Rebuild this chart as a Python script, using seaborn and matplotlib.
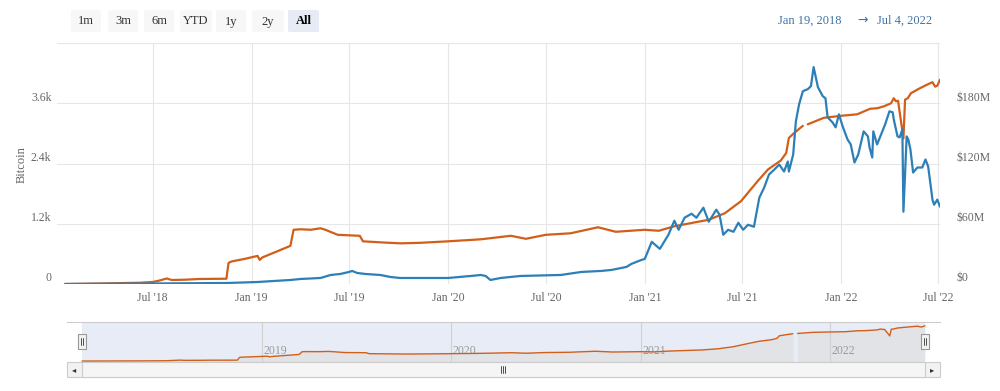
import pandas as pd
import numpy as np
import matplotlib
matplotlib.use("Agg")
import matplotlib.pyplot as plt
import matplotlib.transforms as mtrans
from matplotlib.patches import FancyBboxPatch, Rectangle
import seaborn as sns

# ─────────────────────────────────────────
#  DATA
# ─────────────────────────────────────────
# orange: bitcoin held (left axis); gap in late Oct 2021
btc_dates = [
    "2018-01-19", "2018-03-25", "2018-06-07", "2018-07-01", "2018-07-14",
    "2018-07-27", "2018-08-05", "2018-08-29", "2018-09-26", "2018-11-15",
    "2018-11-19", "2018-11-25", "2018-12-19", "2019-01-12", "2019-01-16",
    "2019-01-21", "2019-02-15", "2019-03-14", "2019-03-20", "2019-04-02",
    "2019-04-21", "2019-05-09", "2019-05-18", "2019-06-10", "2019-07-21",
    "2019-07-27", "2019-08-28", "2019-10-04", "2019-11-10", "2020-01-01",
    "2020-03-02", "2020-04-27", "2020-05-25", "2020-07-01", "2020-08-16",
    "2020-10-06", "2020-11-08", "2021-01-01", "2021-01-27", "2021-02-25",
    "2021-04-30", "2021-05-30", "2021-06-29", "2021-07-30", "2021-08-18",
    "2021-09-11", "2021-09-21", "2021-09-26", "2021-10-06", "2021-10-22",
    "2021-10-26",
    "2021-10-31", "2021-11-30", "2022-01-01", "2022-01-31", "2022-02-24",
    "2022-03-09", "2022-03-22", "2022-04-04", "2022-04-09", "2022-04-13",
    "2022-04-17", "2022-04-27", "2022-04-30", "2022-05-05", "2022-05-11",
    "2022-05-26", "2022-06-08", "2022-06-20", "2022-06-25", "2022-06-29",
    "2022-07-04",
]
btc_held = [
    0, 10, 25, 40, 70,
    110, 80, 85, 100, 105,
    420, 450, 500, 560, 480,
    530, 640, 760, 1080, 1090,
    1080, 1110, 1080, 980, 960,
    850, 830, 810, 820, 850,
    890, 960, 900, 980, 1010,
    1130, 1040, 1080, 1060, 1150,
    1280, 1410, 1650, 2050, 2280,
    2460, 2610, 2910, 3010, 3150,
    np.nan,
    3180, 3310, 3350, 3380, 3490,
    3500, 3540, 3600, 3700, 3640,
    3650, 2900, 3670, 3700, 3800,
    3890, 3960, 4020, 3930, 3950,
    4070,
]

# blue: USD value, $M (right axis)
usd_dates = [
    "2018-01-19", "2018-06-25", "2018-11-17", "2019-01-12", "2019-03-14",
    "2019-04-02", "2019-05-09", "2019-05-28", "2019-06-15", "2019-07-01",
    "2019-07-07", "2019-07-16", "2019-07-31", "2019-08-28", "2019-09-16",
    "2019-10-04", "2019-11-30", "2020-01-01", "2020-02-13", "2020-03-02",
    "2020-03-11", "2020-03-20", "2020-04-08", "2020-05-15", "2020-07-29",
    "2020-09-05", "2020-10-12", "2020-10-31", "2020-11-28", "2020-12-07",
    "2020-12-26", "2021-01-01", "2021-01-14", "2021-01-29", "2021-02-14",
    "2021-02-25", "2021-03-05", "2021-03-16", "2021-03-29", "2021-04-07",
    "2021-04-20", "2021-04-30", "2021-05-14", "2021-05-20", "2021-05-27",
    "2021-06-05", "2021-06-15", "2021-06-24", "2021-07-03", "2021-07-12",
    "2021-07-23", "2021-08-02", "2021-08-11", "2021-08-20", "2021-08-30",
    "2021-09-08", "2021-09-17", "2021-09-24", "2021-09-26", "2021-10-04",
    "2021-10-09", "2021-10-15", "2021-10-22", "2021-10-31", "2021-11-06",
    "2021-11-11", "2021-11-19", "2021-11-28", "2021-12-03", "2021-12-07",
    "2021-12-16", "2021-12-22", "2021-12-28", "2022-01-04", "2022-01-13",
    "2022-01-19", "2022-01-26", "2022-02-02", "2022-02-12", "2022-02-20",
    "2022-02-23", "2022-02-28", "2022-03-02", "2022-03-09", "2022-03-15",
    "2022-03-24", "2022-04-01", "2022-04-07", "2022-04-09", "2022-04-16",
    "2022-04-20", "2022-04-25", "2022-04-27", "2022-05-03", "2022-05-06",
    "2022-05-10", "2022-05-15", "2022-05-23", "2022-06-01", "2022-06-07",
    "2022-06-12", "2022-06-20", "2022-06-23", "2022-06-29", "2022-07-04",
]
usd_value_m = [
    0, 0.5, 1, 2, 4,
    5, 6, 9, 10, 12,
    13, 11, 10, 9, 7,
    6, 6, 6, 8, 9,
    8, 4, 6, 8, 9,
    12, 13, 14, 17, 20,
    24, 25, 42, 35, 49,
    63, 54, 66, 70, 66,
    76, 62, 74, 69, 49,
    54, 52, 61, 54, 59,
    57, 86, 96, 109, 114,
    119, 112, 122, 112, 129,
    162, 179, 192, 194, 197,
    216, 196, 187, 185, 166,
    161, 156, 169, 157, 144,
    139, 121, 129, 152, 147,
    136, 126, 152, 139, 147,
    159, 172, 171, 164, 147,
    146, 154, 72, 147, 144,
    134, 111, 116, 116, 124,
    117, 84, 79, 84, 77,
]

left_ticks = [0, 1200, 2400, 3600, 4800]
left_labels = ["0", "1.2k", "2.4k", "3.6k", ""]
right_ticks = [0, 60, 120, 180, 240]
right_labels = ["$0", "$60M", "$120M", "$180M", ""]
x_ticks = ["2018-07-01", "2019-01-01", "2019-07-01", "2020-01-01", "2020-07-01",
           "2021-01-01", "2021-07-01", "2022-01-01", "2022-07-01"]
x_labels = ["Jul '18", "Jan '19", "Jul '19", "Jan '20", "Jul '20",
            "Jan '21", "Jul '21", "Jan '22", "Jul '22"]
nav_years = ["2019", "2020", "2021", "2022"]
buttons = ["1m", "3m", "6m", "YTD", "1y", "2y", "All"]
range_from = "Jan 19, 2018"
range_to = "Jul 4, 2022"

# ─────────────────────────────────────────
#  STYLE
# ─────────────────────────────────────────
BLUE = "#2d7fb8"
ORANGE = "#d15f1a"
GRID = "#e6e6e6"
LABEL = "#666666"
sns.set_theme(style="white")
plt.rcParams["font.family"] = ["Liberation Serif", "DejaVu Serif"]

btc = pd.DataFrame({"date": pd.to_datetime(btc_dates), "btc": btc_held})
usd = pd.DataFrame({"date": pd.to_datetime(usd_dates), "usd": usd_value_m})
gap = btc["btc"].isna()
seg_id = gap.cumsum()
btc_segments = [g for _, g in btc[~gap].groupby(seg_id[~gap])]

W, H = 1000, 391
fig = plt.figure(figsize=(W / 100, H / 100), dpi=100)
fig.patch.set_facecolor("white")


def fx(px):
    return px / W


def fy(py):
    return 1 - py / H


# ─────────────────────────────────────────
#  MAIN CHART
# ─────────────────────────────────────────
ax = fig.add_axes([fx(57), fy(284), fx(940 - 57), (284 - 43) / H])
ax2 = ax.twinx()

for seg in btc_segments:
    sns.lineplot(data=seg, x="date", y="btc", ax=ax, color=ORANGE,
                 linewidth=1.6, estimator=None, legend=False)
sns.lineplot(data=usd, x="date", y="usd", ax=ax2, color=BLUE,
             linewidth=1.6, estimator=None, legend=False)

xmin, xmax = pd.Timestamp("2018-01-04"), pd.Timestamp("2022-07-04")
for a in (ax, ax2):
    a.set_xlim(xmin, xmax)
    a.set_xlabel("")
    a.set_ylabel("")
    for s in a.spines.values():
        s.set_visible(False)
    a.tick_params(length=0, colors=LABEL, labelsize=8.5)

ax.set_ylim(0, 4800)
ax2.set_ylim(0, 240)
ax.set_yticks(left_ticks)
ax.set_yticklabels(left_labels)
ax2.set_yticks(right_ticks)
ax2.set_yticklabels(right_labels)
ax.set_xticks(pd.to_datetime(x_ticks))
ax.set_xticklabels(x_labels)
ax.tick_params(axis="x", pad=6)
ax.tick_params(axis="y", pad=4)
ax2.tick_params(axis="y", pad=12)
ax.grid(True, color=GRID, linewidth=0.8)
ax2.grid(False)
ax.set_axisbelow(True)

up = mtrans.ScaledTranslation(0, 4 / 72, fig.dpi_scale_trans)
for lbl in ax.get_yticklabels() + ax2.get_yticklabels():
    lbl.set_transform(lbl.get_transform() + up)
    lbl.set_va("center")

fig.text(fx(22), fy(165), "Bitcoin", rotation=90, ha="center", va="center",
         color=LABEL, fontsize=9)

# ─────────────────────────────────────────
#  RANGE SELECTOR / DATES
# ─────────────────────────────────────────
btn_x = [(71, 101), (108, 138), (144, 174), (180, 212), (216, 246),
         (252, 284), (288, 319)]
for name, (x0, x1) in zip(buttons, btn_x):
    sel = name == "All"
    fig.patches.append(FancyBboxPatch(
        (fx(x0), fy(32)), fx(x1 - x0), (32 - 10) / H,
        boxstyle="round,pad=0,rounding_size=0.003",
        transform=fig.transFigure, facecolor="#e6ebf5" if sel else "#f7f7f7",
        edgecolor="none"))
    fig.text(fx((x0 + x1) / 2), fy(21.5), name, ha="center", va="center",
             fontsize=9, color="#000000" if sel else "#333333",
             fontweight="bold" if sel else "normal")

fig.text(fx(810), fy(20.5), range_from, ha="center", va="center",
         fontsize=9, color="#3f73a6")
fig.text(fx(863), fy(20.5), "\u2192", ha="center", va="center",
         fontsize=9, color="#3f73a6", family="DejaVu Sans")
fig.text(fx(905), fy(20.5), range_to, ha="center", va="center",
         fontsize=9, color="#3f73a6")

# ─────────────────────────────────────────
#  NAVIGATOR
# ─────────────────────────────────────────
nav = fig.add_axes([fx(67), fy(362), fx(940 - 67), (362 - 322) / H])
nav_min, nav_max = pd.Timestamp("2017-12-21"), pd.Timestamp("2022-08-02")
nav.set_xlim(nav_min, nav_max)
nav.set_ylim(-110, 4500)
nav.axvspan(btc["date"].min(), btc["date"].max(), color="#e8ecf6", lw=0,
            zorder=0)
for seg in btc_segments:
    nav.fill_between(seg["date"], seg["btc"], -110, color="#dcdcdc",
                     alpha=0.55, lw=0, zorder=1)
    sns.lineplot(data=seg, x="date", y="btc", ax=nav, color=ORANGE,
                 linewidth=1.0, estimator=None, legend=False, zorder=3)
for yr in nav_years:
    d = pd.Timestamp(f"{yr}-01-01")
    nav.axvline(d, color="#d0d0d0", lw=0.8, zorder=2)
    nav.text(d + pd.Timedelta(days=3), 0.28, yr, transform=nav.get_xaxis_transform(),
             ha="left", va="center", fontsize=8.5, color="#999999", zorder=2)
nav.set_xticks([])
nav.set_yticks([])
nav.set_xlabel("")
nav.set_ylabel("")
for side, s in nav.spines.items():
    s.set_visible(side == "top")
nav.spines["top"].set_color("#cccccc")
nav.spines["top"].set_linewidth(0.8)

# handles
for hx in (82, 925):
    fig.patches.append(Rectangle((fx(hx - 4), fy(349)), fx(8), 15 / H,
                                 transform=fig.transFigure, facecolor="#f2f2f2",
                                 edgecolor="#999999", lw=0.8, zorder=5))
    for dx in (-1.2, 1.2):
        fig.lines.append(plt.Line2D([fx(hx + dx)] * 2, [fy(345), fy(338)],
                                    transform=fig.transFigure, color="#333333",
                                    lw=0.6, zorder=6))

# scrollbar
fig.patches.append(Rectangle((fx(67), fy(377)), fx(940 - 67), 15 / H,
                             transform=fig.transFigure, facecolor="#f2f2f2",
                             edgecolor="#cccccc", lw=0.8))
fig.patches.append(Rectangle((fx(82), fy(377)), fx(925 - 82), 15 / H,
                             transform=fig.transFigure, facecolor="#f5f5f5",
                             edgecolor="#cccccc", lw=0.8))
fig.text(fx(74.5), fy(369.5), "\u25c2", ha="center", va="center", fontsize=6,
         color="#333333", family="DejaVu Sans")
fig.text(fx(932.5), fy(369.5), "\u25b8", ha="center", va="center", fontsize=6,
         color="#333333", family="DejaVu Sans")
for dx in (-2, 0, 2):
    fig.lines.append(plt.Line2D([fx(503 + dx)] * 2, [fy(366), fy(373)],
                                transform=fig.transFigure, color="#333333",
                                lw=0.6))

fig.savefig("out.png", dpi=100, facecolor="white")
